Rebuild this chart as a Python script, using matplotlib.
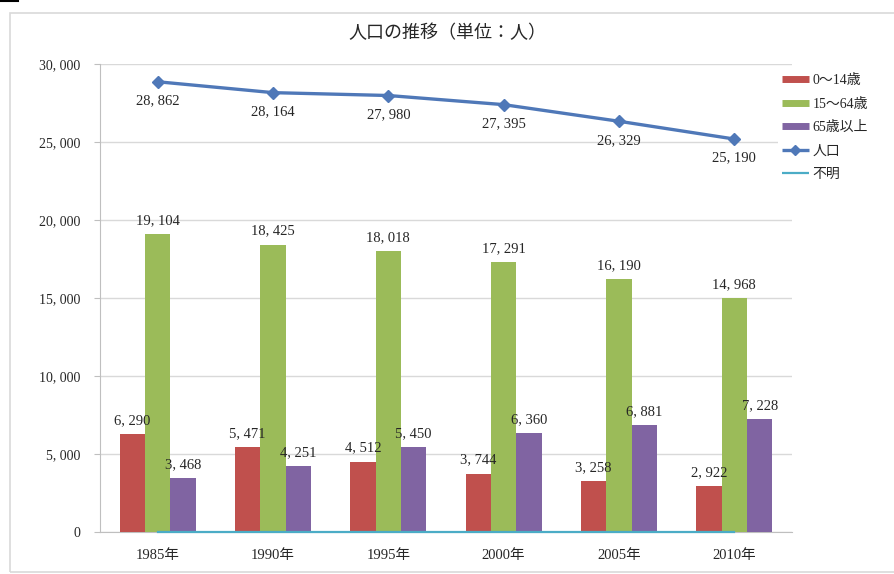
import numpy as np
import matplotlib
matplotlib.use("Agg")
import matplotlib.pyplot as plt
from matplotlib.lines import Line2D
from matplotlib.patches import Rectangle

plt.rcParams['font.family'] = ['Liberation Serif', 'Noto Sans CJK JP', 'DejaVu Sans']

# --- data -------------------------------------------------------------
years = ["1985年", "1990年", "1995年", "2000年", "2005年", "2010年"]
age_0_14 = [6290, 5471, 4512, 3744, 3258, 2922]
age_15_64 = [19104, 18425, 18018, 17291, 16190, 14968]
age_65_plus = [3468, 4251, 5450, 6360, 6881, 7228]
population = [28862, 28164, 27980, 27395, 26329, 25190]
unknown = [0, 0, 0, 0, 0, 0]
y_ticks = [0, 5000, 10000, 15000, 20000, 25000, 30000]

series_names = ["0～14歳", "15～64歳", "65歳以上", "人口", "不明"]
c_red, c_green, c_purple = "#C0504D", "#9BBB59", "#8064A2"
c_blue, c_cyan = "#4F78B8", "#4BACC6"
txt = "#262626"


def fmt(v):
    return f"{v:,}".replace(",", ", ")


W, H = 894, 574
fig = plt.figure(figsize=(W / 100, H / 100), dpi=100)
fig.patch.set_facecolor("white")

# outer chart frame (its right edge runs past the image border)
fig.add_artist(Rectangle((10 / W, 2 / H), 900 / W, (H - 15) / H,
                         transform=fig.transFigure, fill=False,
                         edgecolor="#D9D9D9", lw=1.2))
fig.add_artist(Line2D([0, 18 / W], [1 - 1 / H, 1 - 1 / H],
                      transform=fig.transFigure, color="black", lw=1.5))

ax = fig.add_axes([100 / W, (H - 532) / H, 692 / W, 468 / H])

x = np.arange(len(years))
bw = 0.22
bars = [
    (age_0_14, -bw, c_red),
    (age_15_64, 0.0, c_green),
    (age_65_plus, bw, c_purple),
]
for vals, off, col in bars:
    ax.bar(x + off, vals, width=bw, color=col, zorder=3)
    for xi, v in zip(x + off, vals):
        ax.annotate(fmt(v), (xi, v), xytext=(0, 5), textcoords="offset points",
                    ha="center", va="bottom", fontsize=10.5, color=txt, zorder=5)

ax.plot(x, unknown, color=c_cyan, lw=1.6, zorder=4, clip_on=False)
ax.plot(x, population, color=c_blue, lw=2.4, marker="D", markersize=6,
        zorder=4)
for xi, v in zip(x, population):
    ax.annotate(fmt(v), (xi, v), xytext=(0, -9), textcoords="offset points",
                ha="center", va="top", fontsize=10.5, color=txt, zorder=5)

ax.set_xlim(-0.5, len(years) - 0.5)
ax.set_ylim(0, 30000)
ax.set_yticks(y_ticks)
ax.set_yticklabels([fmt(v) for v in y_ticks], fontsize=10, color=txt)
ax.set_xticks(x)
ax.set_xticklabels(years, fontsize=10.5, color=txt)
ax.tick_params(axis="y", length=4, color="#BFBFBF", pad=10)
ax.tick_params(axis="x", length=0, pad=12)
ax.grid(axis="y", color="#D9D9D9", lw=1, zorder=0)
for s in ["top", "right"]:
    ax.spines[s].set_visible(False)
ax.spines["left"].set_color("#BFBFBF")
ax.spines["bottom"].set_color("#BFBFBF")

fig.text(447 / W, 1 - 33 / H, "人口の推移（単位：人）", ha="center", va="center",
         fontsize=13, color=txt, family=['Noto Sans CJK JP', 'DejaVu Sans'])

handles = [
    Line2D([], [], color=c_red, lw=5, solid_capstyle="butt"),
    Line2D([], [], color=c_green, lw=5, solid_capstyle="butt"),
    Line2D([], [], color=c_purple, lw=5, solid_capstyle="butt"),
    Line2D([], [], color=c_blue, lw=2.4, marker="D", markersize=5,
           solid_capstyle="butt"),
    Line2D([], [], color=c_cyan, lw=1.6, solid_capstyle="butt"),
]
leg = fig.legend(handles, series_names, loc="upper left",
                 bbox_to_anchor=(778 / W, 1 - 70 / H), frameon=True,
                 fontsize=10, handlelength=1.9, handletextpad=0.3,
                 labelspacing=0.75, borderpad=0.3, borderaxespad=0)
leg.get_frame().set_facecolor("white")
leg.get_frame().set_edgecolor("none")
leg.get_frame().set_alpha(1)
for t in leg.get_texts():
    t.set_color(txt)

fig.savefig("out.png", dpi=100)
